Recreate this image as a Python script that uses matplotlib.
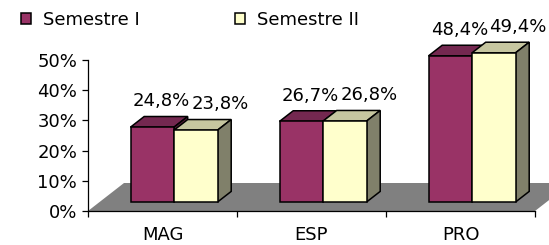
import matplotlib
matplotlib.use("Agg")
import matplotlib.pyplot as plt
from matplotlib.patches import Polygon, Patch

# data
categories = ["MAG", "ESP", "PRO"]
series_names = ["Semestre I", "Semestre II"]
sem1 = [24.8, 26.7, 48.4]
sem2 = [23.8, 26.8, 49.4]
y_ticks = [0, 10, 20, 30, 40, 50]

# colours: front, top, side
colors = [("#993366", "#742850", "#5a1f3e"),
          ("#ffffcc", "#c6c6a0", "#80806a")]
floor_color = "#808080"

W, H = 549, 245
# 3d look (data units)
DX, DY = 0.2416, 9.27      # full floor depth offset
Z0, Z1 = 0.32, 0.70        # bar depth inside floor
BAR_W = 0.292


def bar3d(ax, x0, v, cols):
    fc, tc, sc = cols
    ox0, oy0 = Z0 * DX, Z0 * DY
    ox1, oy1 = Z1 * DX, Z1 * DY
    x1 = x0 + BAR_W
    top = [(x0 + ox0, v + oy0), (x1 + ox0, v + oy0), (x1 + ox1, v + oy1), (x0 + ox1, v + oy1)]
    side = [(x1 + ox0, oy0), (x1 + ox1, oy1), (x1 + ox1, v + oy1), (x1 + ox0, v + oy0)]
    front = [(x0 + ox0, oy0), (x1 + ox0, oy0), (x1 + ox0, v + oy0), (x0 + ox0, v + oy0)]
    for pts, c in [(top, tc), (side, sc), (front, fc)]:
        ax.add_patch(Polygon(pts, closed=True, fc=c, ec="black", lw=1.1,
                             joinstyle="miter", clip_on=False, zorder=3))


def main():
    fig = plt.figure(figsize=(W / 100, H / 100), dpi=100)
    ax = fig.add_axes([88 / W, 34 / H, 447 / W, 151 / H])
    ax.set_xlim(0, 3)
    ax.set_ylim(0, 50)
    ax.patch.set_visible(False)

    for s in ["top", "right"]:
        ax.spines[s].set_visible(False)
    for s in ["left", "bottom"]:
        ax.spines[s].set_linewidth(0.9)
        ax.spines[s].set_zorder(2)

    # floor
    ax.add_patch(Polygon([(0, 0), (3, 0), (3 + DX, DY), (DX, DY)], closed=True,
                         fc=floor_color, ec="none", clip_on=False, zorder=1))

    for i in range(len(categories)):
        c = i + 0.5
        for s, vals in enumerate([sem1, sem2]):
            x0 = c - BAR_W + s * BAR_W
            v = vals[i]
            bar3d(ax, x0, v, colors[s])
            shift = -0.03 if s == 0 else 0.07
            ax.text(x0 + BAR_W / 2 + Z1 * DX + shift, v + Z1 * DY + 5.0,
                    ("%.1f%%" % v).replace(".", ","), ha="center", va="center",
                    fontsize=13, zorder=5)

    ax.set_yticks(y_ticks)
    ax.set_yticklabels(["%d%%" % t for t in y_ticks])
    ax.tick_params(axis="y", direction="out", length=4.3, width=0.9, pad=3.5, labelsize=13)

    ax.set_xticks([i + 0.5 for i in range(len(categories))])
    ax.set_xticklabels(categories)
    ax.set_xticks(range(len(categories) + 1), minor=True)
    ax.tick_params(axis="x", which="major", length=0, pad=11, labelsize=13)
    ax.tick_params(axis="x", which="minor", direction="out", length=4.3, width=0.9)

    handles = [Patch(fc=colors[k][0], ec="black", lw=1.1) for k in range(2)]
    fig.legend(handles, series_names, loc="upper left", bbox_to_anchor=(21 / W, 0.957),
               ncol=2, frameon=False, fontsize=13, handlelength=0.55, handleheight=0.55,
               handletextpad=0.65, columnspacing=5.3, borderaxespad=0, borderpad=0)

    fig.savefig("out.png", dpi=100)


if __name__ == "__main__":
    main()
